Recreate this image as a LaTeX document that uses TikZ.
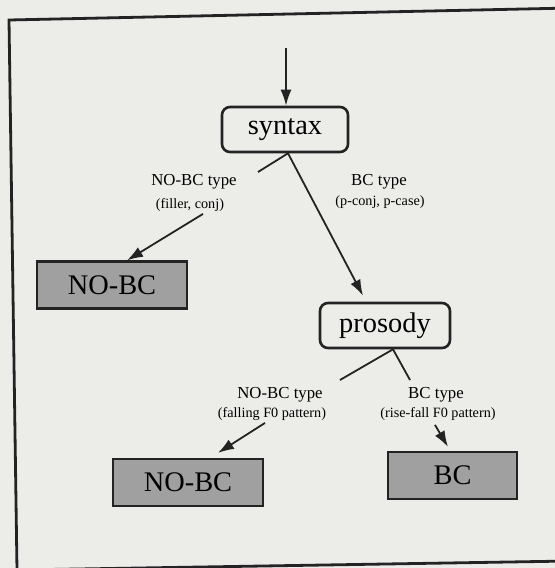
\documentclass[tikz,border=0pt]{standalone}
\usepackage{fontspec}
\setmainfont{Liberation Serif}
\usetikzlibrary{arrows.meta, positioning}
\definecolor{paper}{RGB}{236,236,233}
\definecolor{shade}{RGB}{160,160,160}
\definecolor{ink}{RGB}{35,35,35}

\begin{document}
\begin{tikzpicture}[
  x=0.5pt, y=-0.5pt,
  decision/.style={draw=ink, line width=1.3pt, rounded corners=4pt, inner sep=0pt, minimum width=63pt, minimum height=22.5pt, font=\fontsize{14.2}{16}\selectfont},
  outcome/.style={draw=ink, line width=1.1pt, fill=shade, inner sep=0pt, minimum width=75pt, minimum height=23.5pt, font=\fontsize{14.2}{16}\selectfont},
  lbl/.style={inner sep=0pt, font=\fontsize{8.4}{10}\selectfont},
  sublbl/.style={inner sep=0pt, font=\fontsize{7.1}{8}\selectfont},
  arrow/.style={-{Latex[length=8pt, width=5.5pt]}, line width=0.9pt, draw=ink},
  stub/.style={line width=0.9pt, draw=ink}
]
\useasboundingbox (0,0) rectangle (555,568);
\fill[paper] (0,0) rectangle (555,568);
\draw[ink, line width=1.4pt] (9,20) -- (570,8) -- (570,561) -- (17,570) -- cycle;

% decisions
\node[decision] (syntax) at (285,129.5) {syntax};
\node[decision, minimum width=65pt] (prosody) at (385,325.5) {prosody};

% outcomes
\node[outcome] (nobcA) at (112,285) {NO-BC};
\node[outcome] (nobcB) at (188,482.5) {NO-BC};
\node[outcome, minimum width=64.5pt] (bc) at (452.5,475.5) {BC};

% branch labels
\node[lbl] (nobctypeA) at (194,182) {NO-BC type};
\node[sublbl] (nobcwhyA) at (190,205) {(filler, conj)};
\node[lbl] (bctypeA) at (379,182) {BC type};
\node[sublbl] (bcwhyA) at (380,202) {(p-conj, p-case)};
\node[lbl] (nobctypeB) at (280,395) {NO-BC type};
\node[sublbl] (nobcwhyB) at (272,414) {(falling F0 pattern)};
\node[lbl] (bctypeB) at (436,395) {BC type};
\node[sublbl] (bcwhyB) at (438,414) {(rise-fall F0 pattern)};

\coordinate (entry) at (286,48);
\coordinate (syntaxstub) at (258,172);
\coordinate (prosodystubL) at (340,380);
\coordinate (prosodystubR) at (410,380);

\draw[arrow] (entry) -- (entry |- syntax.north);

\draw[stub] ([xshift=1.5pt]syntax.south) -- (syntaxstub);
\draw[arrow] ([xshift=1.5pt]syntax.south) -- ([xshift=-11pt, yshift=3pt]prosody.north);
\draw[arrow] ([xshift=6.5pt, yshift=-1pt]nobcwhyA.south) -- ([xshift=7.5pt]nobcA.north);

\draw[stub] ([xshift=4pt]prosody.south) -- (prosodystubL);
\draw[stub] ([xshift=4pt]prosody.south) -- (prosodystubR);
\draw[arrow] ([xshift=-3.5pt, yshift=-1pt]nobcwhyB.south) -- ([xshift=15pt, yshift=2.5pt]nobcB.north);
\draw[arrow] ([xshift=-1.5pt, yshift=-2pt]bcwhyB.south) -- ([xshift=-2.25pt, yshift=2pt]bc.north);
\end{tikzpicture}
\end{document}
